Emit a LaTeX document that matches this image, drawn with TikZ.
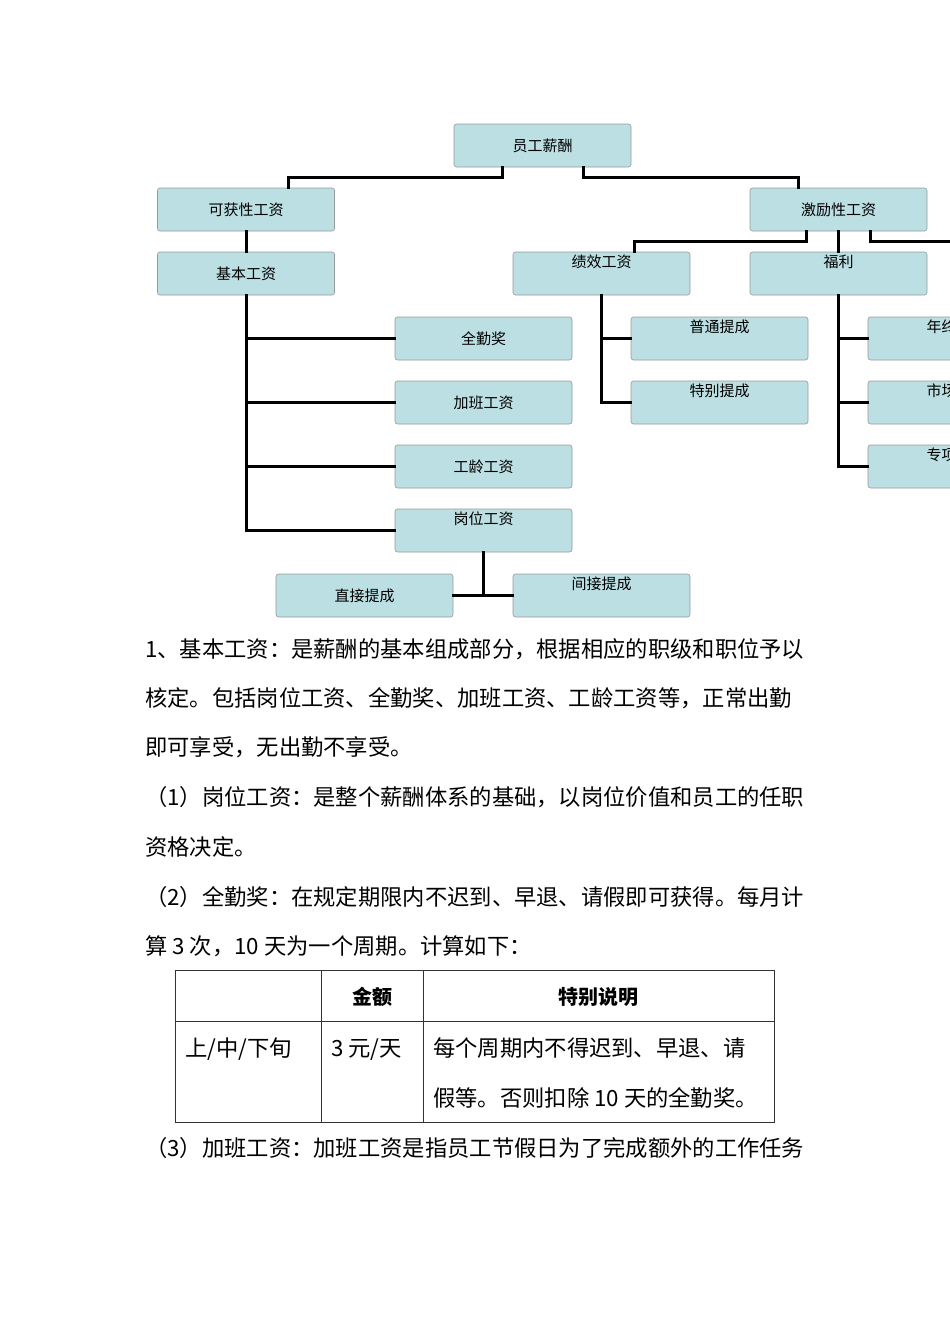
\documentclass[tikz,border=0pt]{standalone}
\usepackage{fontspec}
\setmainfont{Noto Sans CJK SC}
\begin{document}
\begin{tikzpicture}[x=1pt,y=-1pt,
  bx/.style={draw=black!40,fill=boxc,rounded corners=2.5pt,line width=0.6pt,minimum width=177pt,minimum height=43pt,inner sep=0pt,font=\fontsize{15}{16}\selectfont},
  conn/.style={line width=3pt,line cap=rect},
  para/.style={anchor=base west,inner sep=0pt,font=\fontsize{22.3}{23}\selectfont},
  tl/.style={line width=0.8pt,draw=black!80}]
\definecolor{boxc}{HTML}{BBDFE2}
\useasboundingbox (0,0) rectangle (950,1344);
\clip (0,0) rectangle (950,1344);
\def\B#1#2#3#4{\node[bx] (#1) at (#2,#3) {#4};}
\def\T#1#2#3#4{\node[bx] (#1) at (#2,#3) {}; \node[font=\fontsize{15}{16}\selectfont,anchor=north,inner sep=0pt] (#1t) at ([yshift=-3pt]#1.north) {#4};}
\B{root}{542.5}{145.5}{员工薪酬}
\B{kh}{246}{209.5}{可获性工资}
\B{jl}{838.5}{209.5}{激励性工资}
\B{jb}{246}{273.5}{基本工资}
\T{jx}{601.5}{273.5}{绩效工资}
\T{fl}{838.5}{273.5}{福利}
\B{qq}{483.5}{338.5}{全勤奖}
\B{jbg}{483.5}{402.5}{加班工资}
\B{gl}{483.5}{466.5}{工龄工资}
\T{gw}{483.5}{530.5}{岗位工资}
\B{zj}{364.5}{595.5}{直接提成}
\T{ij}{601.5}{595.5}{间接提成}
\T{pt}{719.5}{338.5}{普通提成}
\T{tb}{719.5}{402.5}{特别提成}
\T{nz}{956.5}{338.5}{年终奖金}
\T{sc}{956.5}{402.5}{市场补贴}
\T{zx}{956.5}{466.5}{专项补贴}
\draw[conn] (root.south -| 502,0) |- (288,177) -- (kh.north -| 288,0);
\draw[conn] (root.south -| 583,0) |- (798,177) -- (jl.north -| 798,0);
\draw[conn] (kh.south) -- (jb.north);
\draw[conn] (jl.south -| 806,0) |- (634,241) -- (jx.north -| 634,0);
\draw[conn] (jl.south) -- (fl.north);
\coordinate (rt) at (960,241);
\draw[conn] (jl.south -| 870,0) |- (rt);
\draw[conn] (jb.south) |- (gw.west);
\draw[conn] (246,338.5) -- (qq.west);
\draw[conn] (246,402.5) -- (jbg.west);
\draw[conn] (246,466.5) -- (gl.west);
\draw[conn] (gw.south) -- (483.5,595.5);
\draw[conn] (zj.east) -- (ij.west);
\draw[conn] (jx.south) |- (tb.west);
\draw[conn] (601.5,338.5) -- (pt.west);
\draw[conn] (fl.south) |- (zx.west);
\draw[conn] (838.5,338.5) -- (nz.west);
\draw[conn] (838.5,402.5) -- (sc.west);
\node[para] (l1) at (145,657) {1、基本工资：是薪酬的基本组成部分，根据相应的职级和职位予以};
\node[para] (l2) at (145,706) {核定。包括岗位工资、全勤奖、加班工资、工龄工资等，正常出勤};
\node[para] (l3) at (145,755) {即可享受，无出勤不享受。};
\node[para] (l4) at (145,805) {（1）岗位工资：是整个薪酬体系的基础，以岗位价值和员工的任职};
\node[para] (l5) at (145,855) {资格决定。};
\node[para] (l6) at (145,905) {（2）全勤奖：在规定期限内不迟到、早退、请假即可获得。每月计};
\node[para] (l7) at (145,954) {算 3 次，10 天为一个周期。计算如下：};
\draw[tl] (175,970) rectangle (774,1122);
\draw[tl] (175,1021) -- (774,1021);
\draw[tl] (321,970) -- (321,1122);
\draw[tl] (423,970) -- (423,1122);
\node[font=\fontsize{20}{21}\selectfont\bfseries,inner sep=0pt] (h1) at (372,997) {金额};
\node[font=\fontsize{20}{21}\selectfont\bfseries,inner sep=0pt] (h2) at (598.5,997) {特别说明};
\node[para] (c1) at (185,1056) {上/中/下旬};
\node[para] (c2) at (331,1056) {3 元/天};
\node[para] (c3) at (433,1056) {每个周期内不得迟到、早退、请};
\node[para] (c4) at (433,1106) {假等。否则扣除 10 天的全勤奖。};
\node[para] (l8) at (145,1156) {（3）加班工资：加班工资是指员工节假日为了完成额外的工作任务};
\end{tikzpicture}
\end{document}
